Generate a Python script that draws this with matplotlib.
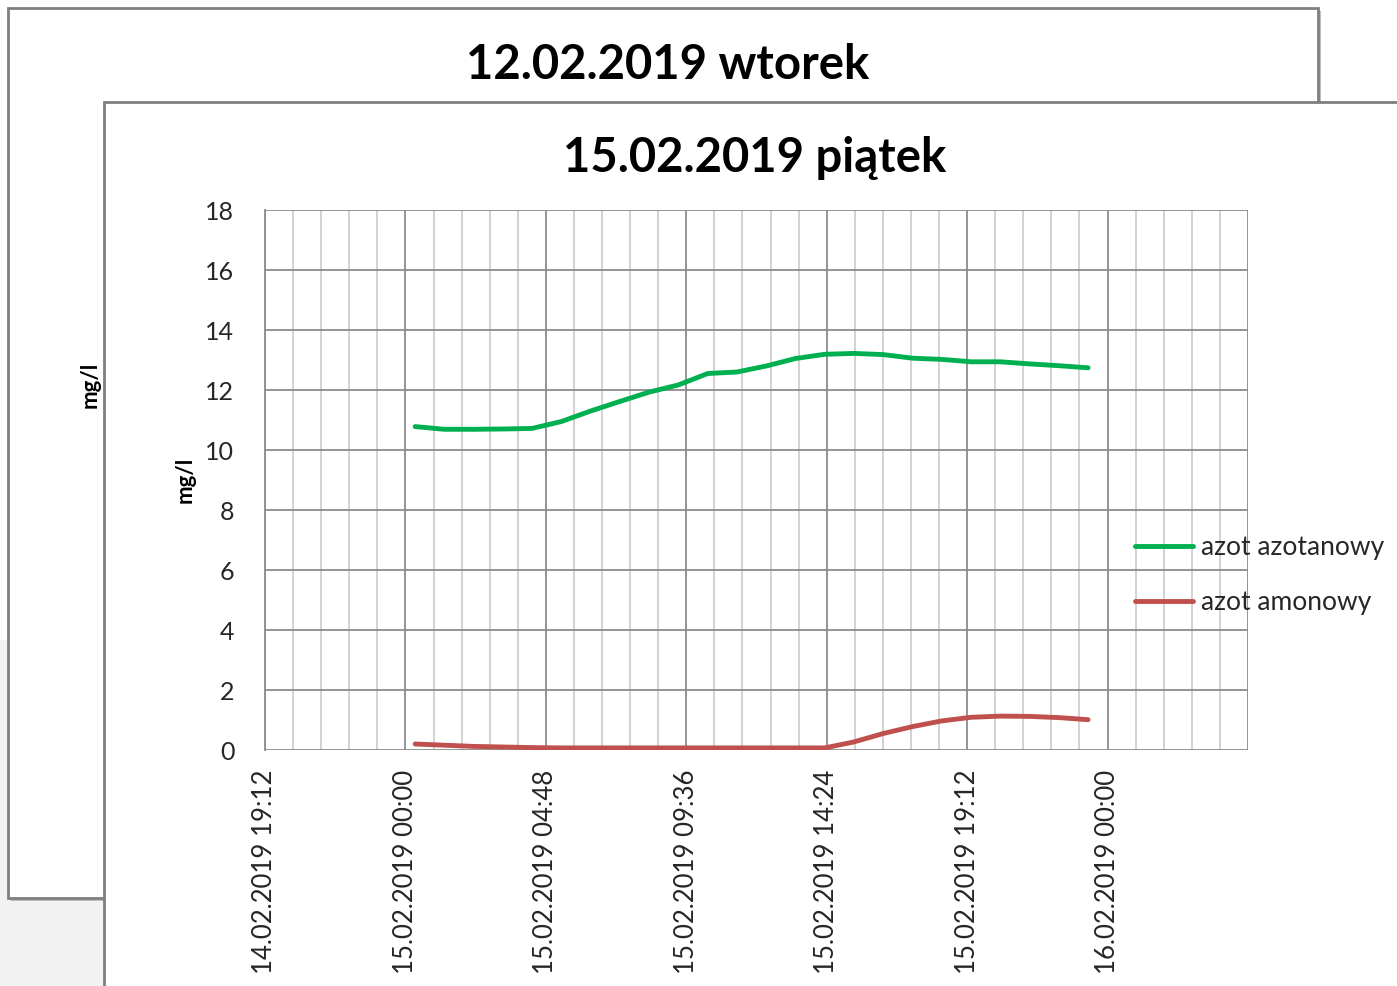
import matplotlib
matplotlib.use('Agg')
import matplotlib.pyplot as plt
import matplotlib.dates as mdates
from matplotlib.patches import Rectangle
from matplotlib.ticker import FixedLocator, MultipleLocator
import pandas as pd

# Hourly readings, 15.02.2019
times = pd.date_range('2019-02-15 00:20', periods=24, freq='h')
azot_azotanowy = [10.78, 10.69, 10.69, 10.70, 10.72, 10.95, 11.30, 11.62, 11.93, 12.17,
                  12.55, 12.60, 12.80, 13.05, 13.19, 13.22, 13.18, 13.06, 13.02, 12.94,
                  12.94, 12.87, 12.81, 12.74]
azot_amonowy = [0.20, 0.16, 0.12, 0.10, 0.08, 0.07, 0.07, 0.07, 0.07, 0.07,
                0.07, 0.07, 0.07, 0.07, 0.07, 0.27, 0.55, 0.78, 0.97, 1.09,
                1.13, 1.12, 1.08, 1.01]
series_names = ['azot azotanowy', 'azot amonowy']
back_title = '12.02.2019 wtorek'
front_title = '15.02.2019 piątek'
x_start = pd.Timestamp('2019-02-14 19:12')
x_end = pd.Timestamp('2019-02-16 04:48')

W, H = 1397, 986
FONT = ['Lato', 'DejaVu Sans']
plt.rcParams['font.family'] = FONT


def fx(x):
    return x / W


def fy(y):
    return 1 - y / H


fig = plt.figure(figsize=(W / 100, H / 100), dpi=100)
fig.patch.set_facecolor('white')

# light textured background at lower left
fig.patches.append(Rectangle((0, 0), fx(104), fy(640), transform=fig.transFigure,
                             facecolor='#f2f2f2', edgecolor='none', zorder=0))

# back slide panel (12.02) with shadow
fig.patches.append(Rectangle((fx(11), fy(901)), fx(1310), (898 - 8) / H, transform=fig.transFigure,
                             facecolor='#bdbdbd', edgecolor='none', zorder=1))
fig.patches.append(Rectangle((fx(8), fy(898)), fx(1310), (898 - 8) / H, transform=fig.transFigure,
                             facecolor='white', edgecolor='#7f7f7f', linewidth=2, zorder=1.1))
fig.text(fx(668), fy(65), back_title, ha='center', va='center', fontsize=34,
         fontweight='bold', color='black', zorder=1.2)
fig.text(fx(90), fy(385), 'mg/l', ha='center', va='center', rotation=90, fontsize=16,
         fontweight='bold', color='black', zorder=1.2)

# front panel (15.02)
fig.patches.append(Rectangle((fx(107), 0), fx(1400), fy(105), transform=fig.transFigure,
                             facecolor='#bdbdbd', edgecolor='none', zorder=2))
fig.patches.append(Rectangle((fx(104), -0.01), fx(1400), fy(102) + 0.01, transform=fig.transFigure,
                             facecolor='white', edgecolor='#7f7f7f', linewidth=2, zorder=2.1))
fig.text(fx(755), fy(158), front_title, ha='center', va='center', fontsize=34,
         fontweight='bold', color='black', zorder=2.2)
fig.text(fx(185), fy(480), 'mg/l', ha='center', va='center', rotation=90, fontsize=16,
         fontweight='bold', color='black', zorder=2.2)

ax = fig.add_axes([fx(265), fy(750), fx(1248 - 265), (750 - 210) / H], zorder=5)
ax.set_facecolor('white')

l1, = ax.plot(times, azot_azotanowy, color='#00b050', linewidth=3.5,
              solid_capstyle='round', solid_joinstyle='round', zorder=4)
l2, = ax.plot(times, azot_amonowy, color='#c0504d', linewidth=3.5,
              solid_capstyle='round', solid_joinstyle='round', zorder=4)

ax.set_xlim(mdates.date2num(x_start), mdates.date2num(x_end))
ax.set_ylim(0, 18)

major = pd.date_range(x_start, x_end, freq='288min')
minor = pd.date_range(x_start, x_end, freq='3456s')
ax.xaxis.set_major_locator(FixedLocator(mdates.date2num(major)))
ax.xaxis.set_minor_locator(FixedLocator(mdates.date2num(minor)))
ax.set_xticklabels([t.strftime('%d.%m.%Y %H:%M') for t in major[:-1]] + [''],
                   rotation=90, fontsize=18.5)
ax.yaxis.set_major_locator(MultipleLocator(2))
ax.tick_params(axis='y', labelsize=18, length=0, pad=22)
ax.tick_params(axis='x', which='both', length=0, pad=14)

ax.grid(True, which='major', axis='both', color='#8c8c8c', linewidth=1.3, zorder=1)
ax.grid(True, which='minor', axis='x', color='#cfcfcf', linewidth=1.3, zorder=1)
ax.set_axisbelow(True)
for side in ['top', 'right', 'bottom']:
    ax.spines[side].set_visible(False)
ax.spines['left'].set_color('#8c8c8c')
ax.spines['left'].set_linewidth(1.3)
for lab in ax.get_xticklabels() + ax.get_yticklabels():
    lab.set_color('#262626')

leg = fig.legend([l1, l2], series_names, loc='center left',
                 bbox_to_anchor=(fx(1124), fy(575)), frameon=False, fontsize=19,
                 handlelength=2.2, handletextpad=0.3, labelspacing=1.15, borderaxespad=0)
leg.set_zorder(6)
for t in leg.get_texts():
    t.set_color('#262626')

fig.savefig('out.png', dpi=100, facecolor=fig.get_facecolor())
